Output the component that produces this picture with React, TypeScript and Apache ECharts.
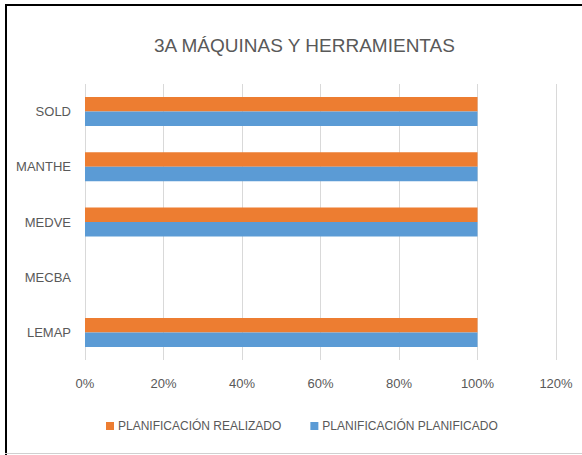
import React, { useEffect, useRef } from "react";
import * as echarts from "echarts";

const categories = ["LEMAP", "MECBA", "MEDVE", "MANTHE", "SOLD"];
const planificado = [100, null, 100, 100, 100];
const realizado = [100, null, 100, 100, 100];
const xTicks = { min: 0, max: 120, interval: 20 };
const seriesNames = ["PLANIFICACIÓN REALIZADO", "PLANIFICACIÓN PLANIFICADO"];
const title = "3A MÁQUINAS Y HERRAMIENTAS";

const FONT = "'Liberation Sans', sans-serif";
const TXT = "#595959";

export default function App() {
  const ref = useRef<HTMLDivElement>(null);
  useEffect(() => {
    if (!ref.current) return;
    const chart = echarts.init(ref.current, undefined, { renderer: "svg" });
    chart.setOption({
      animation: false,
      backgroundColor: "#ffffff",
      title: {
        text: title,
        left: 149,
        top: 31,
        textStyle: { fontFamily: FONT, fontSize: 19, fontWeight: "normal", color: TXT },
      },
      legend: {
        data: seriesNames,
        top: 420,
        left: 106,
        padding: 0,
        icon: "rect",
        itemWidth: 8,
        itemHeight: 8,
        itemGap: 29,
        textStyle: { fontFamily: FONT, fontSize: 12, color: TXT, padding: [0, 0, 0, -1] },
      },
      grid: { left: 85, right: 26, top: 84, bottom: 95, containLabel: false },
      xAxis: {
        type: "value",
        min: xTicks.min,
        max: xTicks.max,
        interval: xTicks.interval,
        axisLine: { show: false },
        axisTick: { show: false },
        splitLine: { lineStyle: { color: "#D9D9D9", width: 1 } },
        axisLabel: { formatter: "{value}%", fontFamily: FONT, fontSize: 13, color: TXT, margin: 17 },
      },
      yAxis: {
        type: "category",
        data: categories,
        axisLine: { show: false },
        axisTick: { show: false },
        axisLabel: { fontFamily: FONT, fontSize: 13, color: TXT, margin: 14 },
      },
      series: [
        {
          name: seriesNames[0],
          type: "bar",
          data: realizado,
          barWidth: 14.5,
          barGap: "0%",
          itemStyle: { color: "#ED7D31" },
        },
        {
          name: seriesNames[1],
          type: "bar",
          data: planificado,
          barWidth: 14.5,
          barGap: "0%",
          itemStyle: { color: "#5B9BD5" },
        },
      ],
      graphic: [
        { type: "line", shape: { x1: 6, y1: 4, x2: 6, y2: 455 }, style: { stroke: "#000", lineWidth: 2 } },
        { type: "line", shape: { x1: 5, y1: 5, x2: 582, y2: 5 }, style: { stroke: "#000", lineWidth: 2 } },
        { type: "line", shape: { x1: 5, y1: 453.5, x2: 582, y2: 453.5 }, style: { stroke: "#D0D0D0", lineWidth: 1 } },
      ],
    });
    return () => chart.dispose();
  }, []);
  return (
    <div
      ref={ref}
      style={{ position: "fixed", left: 0, top: 0, width: 582, height: 455 }}
    />
  );
}
